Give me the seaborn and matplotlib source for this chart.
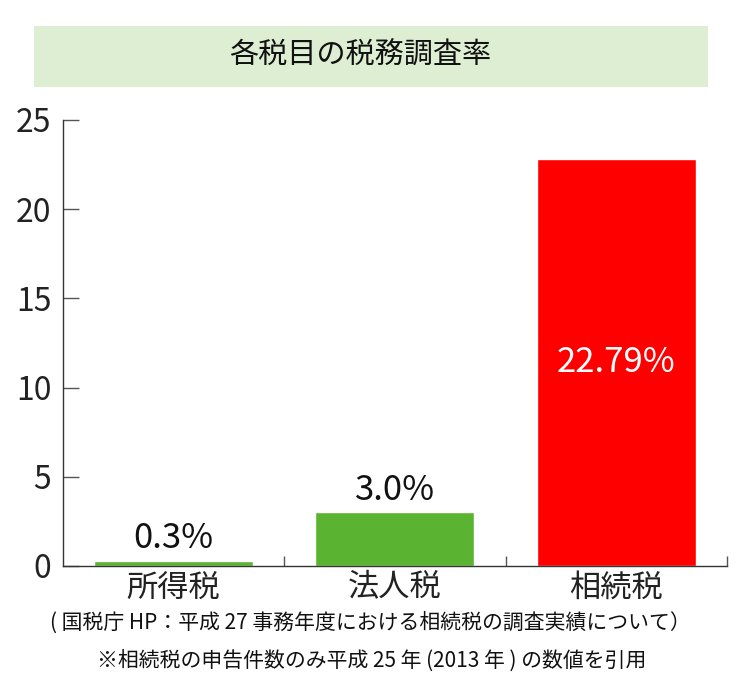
import matplotlib
matplotlib.use("Agg")
import matplotlib.pyplot as plt
import seaborn as sns
import pandas as pd
from matplotlib.patches import Rectangle
from matplotlib.ticker import FixedLocator

categories = ["所得税", "法人税", "相続税"]
values = [0.3, 3.0, 22.79]
value_labels = ["0.3%", "3.0%", "22.79%"]
bar_colors = ["#5BB431", "#5BB431", "#FF0000"]
yticks = [0, 5, 10, 15, 20, 25]
title = "各税目の税務調査率"
note1 = "( 国税庁 HP：平成 27 事務年度における相続税の調査実績について）"
note2 = "※相続税の申告件数のみ平成 25 年 (2013 年 ) の数値を引用"

sns.set_theme(style="white")
plt.rcParams['font.family'] = ['Noto Sans CJK JP', 'DejaVu Sans']

W, H = 739, 681
fig = plt.figure(figsize=(W / 100, H / 100), dpi=100)
ax = fig.add_axes([62.5 / W, 1 - 566 / H, 664.5 / W, 446 / H])

df = pd.DataFrame({"cat": categories, "val": values})
sns.barplot(data=df, x="cat", y="val", hue="cat", palette=bar_colors,
            width=0.72, ax=ax, legend=False, saturation=1)

ax.set_xlim(-0.5, 2.5)
ax.set_ylim(0, 25)
ax.set_yticks(yticks)
ax.set_yticklabels([str(t) for t in yticks], fontsize=23, color="#222222")
ax.set_xticks(range(len(categories)))
ax.set_xticklabels(categories, fontsize=22.5, color="#222222")
ax.xaxis.set_minor_locator(FixedLocator([0.5, 1.5, 2.5]))
ax.tick_params(axis="y", left=True, direction="in", length=11.5, width=1, color="#555555", pad=8)
ax.tick_params(axis="x", which="major", length=0, pad=4)
ax.tick_params(axis="x", which="minor", direction="in", length=7, width=1, color="#555555", bottom=True)
ax.set_xlabel("")
ax.set_ylabel("")
for s in ["top", "right"]:
    ax.spines[s].set_visible(False)
for s in ["left", "bottom"]:
    ax.spines[s].set_color("#333333")
    ax.spines[s].set_linewidth(1)

for i, (v, lab) in enumerate(zip(values, value_labels)):
    if v > 10:
        ax.text(i, v / 2, lab, ha="center", va="center", color="white", fontsize=25)
    else:
        ax.text(i, v + 0.25, lab, ha="center", va="bottom", color="#111111", fontsize=25)

# title box
fig.patches.append(Rectangle((34 / W, 1 - 87 / H), (708 - 34) / W, (87 - 26) / H,
                             transform=fig.transFigure, facecolor="#DDEED3",
                             edgecolor="none", zorder=0))
fig.text(360 / W, 1 - 56 / H, title, ha="center", va="center", fontsize=21, color="#111111")
fig.text(370 / W, 1 - 623 / H, note1, ha="center", va="center", fontsize=15, color="#111111")
fig.text(372 / W, 1 - 661 / H, note2, ha="center", va="center", fontsize=15, color="#111111")

fig.savefig("out.png", dpi=100)
